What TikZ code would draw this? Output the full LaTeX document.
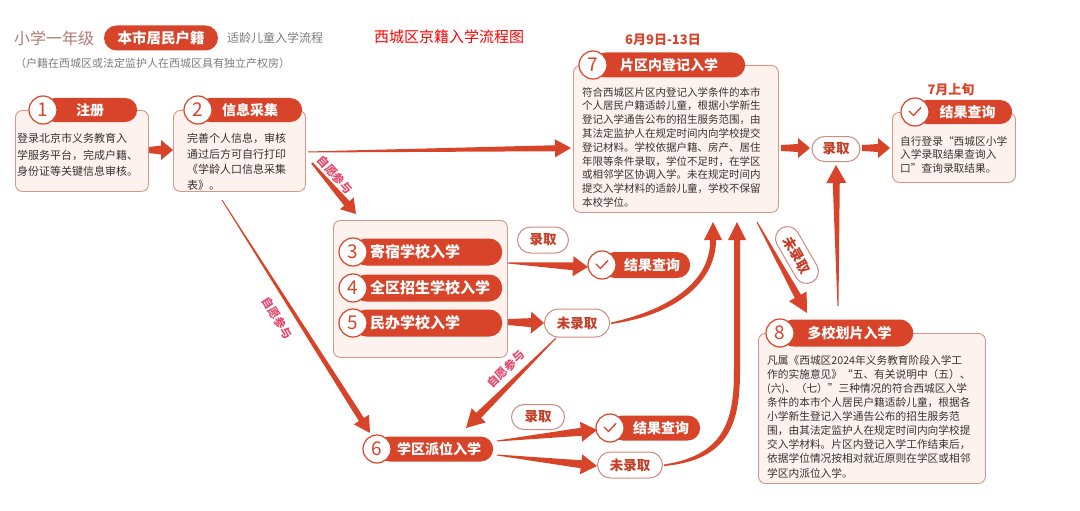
\documentclass[tikz,border=0pt]{standalone}
\usepackage{fontspec}
\setmainfont{Noto Sans CJK SC}
\usetikzlibrary{calc,shapes.misc}
\definecolor{mred}{RGB}{216,68,42}
\definecolor{cardfill}{RGB}{253,242,238}
\definecolor{cardline}{RGB}{214,150,138}
\definecolor{bodytext}{RGB}{55,50,50}
\definecolor{lblpink}{RGB}{228,72,108}
\definecolor{titlegray}{RGB}{176,124,112}
\definecolor{subgray}{RGB}{125,125,125}
\definecolor{ovalline}{RGB}{205,140,128}
\definecolor{ovaltext}{RGB}{196,62,40}
\tikzset{
 card/.style={draw=cardline, fill=cardfill, line width=0.9pt, rounded corners=7pt, inner sep=0pt, anchor=north west},
 redpill/.style={rounded rectangle, fill=mred, text=white, inner sep=0pt, anchor=west, font=\fontsize{14}{14}\selectfont\bfseries},
 boxpill/.style={rectangle, rounded corners=13pt, fill=mred, text=white, anchor=west, minimum width=149pt, minimum height=27pt, text width=115pt, inner xsep=17pt, inner ysep=0pt, align=left, font=\fontsize{15}{15}\selectfont\bfseries},
 numcirc/.style={circle, draw=mred, fill=white, line width=1.2pt, inner sep=0pt, minimum size=28pt, text=mred, font=\fontsize{19}{19}\selectfont},
 ovalpill/.style={rounded rectangle, draw=ovalline, fill=white, line width=1pt, inner sep=0pt, text=ovaltext, font=\fontsize{13.5}{13.5}\selectfont\bfseries},
 body/.style={inner sep=0pt, anchor=north west, align=left, text=bodytext},
 lbl/.style={text=lblpink, font=\fontsize{11.5}{11.5}\selectfont\bfseries, inner sep=1pt},
 chk/.style={draw=mred, line width=1.3pt, line cap=round, line join=round},
 datelbl/.style={text=mred, font=\fontsize{13}{13}\selectfont\bfseries, inner sep=0pt},
}
% start, tip, start half width, shaft-end half width, head half width, head length
\newcommand\taperarrow[6]{%
  \coordinate (tacc) at ($(#2)!#6!(#1)$);
  \fill[mred] ($(#1)!#3!90:(#2)$) -- ($(tacc)!#4!90:(#2)$) -- ($(tacc)!#5!90:(#2)$) -- (#2)
    -- ($(tacc)!#5!-90:(#2)$) -- ($(tacc)!#4!-90:(#2)$) -- ($(#1)!#3!-90:(#2)$) -- cycle;}
\begin{document}
\begin{tikzpicture}[x=1pt,y=-1pt]
\fill[white] (0,0) rectangle (1080,511);
\useasboundingbox (0,0) rectangle (1080,511);

% ---------- header ----------
\node[anchor=west, text=titlegray, inner sep=0pt, font=\fontsize{16}{16}\selectfont] (hd1) at (14,38) {小学一年级};
\node[redpill, anchor=center, minimum width=114pt, minimum height=25pt, font=\fontsize{14.5}{14.5}\selectfont\bfseries] (badge) at (161,38) {本市居民户籍};
\node[anchor=west, text=subgray, inner sep=0pt, font=\fontsize{12}{12}\selectfont] (hd2) at (227,38) {适龄儿童入学流程};
\node[anchor=west, text=red, inner sep=0pt, font=\fontsize{15}{15}\selectfont] (hd3) at (374,37) {西城区京籍入学流程图};
\node[anchor=west, text=subgray, inner sep=0pt, font=\fontsize{11}{11}\selectfont] (hd4) at (15,63) {（户籍在西城区或法定监护人在西城区具有独立产权房）};

% ---------- card 1 ----------
\node[card, minimum width=133pt, minimum height=81pt] (c1) at (15,110) {};
\node[redpill, minimum width=94pt, minimum height=24pt] (p1) at (43,110) {注册};
\node[numcirc] (n1) at (43,110) {1};
\node[body, font=\fontsize{11}{16.5}\selectfont] (t1) at (17,133) {登录北京市义务教育入\\学服务平台，完成户籍、\\身份证等关键信息审核。};

% ---------- card 2 ----------
\node[card, minimum width=132pt, minimum height=81pt] (c2) at (173,110) {};
\node[redpill, minimum width=104pt, minimum height=24pt] (p2) at (198,110) {信息采集};
\node[numcirc] (n2) at (198,110) {2};
\node[body, font=\fontsize{11}{15.5}\selectfont] (t2) at (187,133) {完善个人信息，审核\\通过后方可自行打印\\《学龄人口信息采集\\表》。};

% ---------- card 7 ----------
\node[card, minimum width=205pt, minimum height=147pt] (c7) at (573,65) {};
\node[datelbl] (d7) at (663,40) {6月9日-13日};
\node[redpill, minimum width=152pt, minimum height=25pt] (p7) at (593,65) {片区内登记入学};
\node[numcirc] (n7) at (593,65) {7};
\node[body, font=\fontsize{10.5}{13.8}\selectfont] (t7) at (582,87) {符合西城区片区内登记入学条件的本市\\个人居民户籍适龄儿童，根据小学新生\\登记入学通告公布的招生服务范围，由\\其法定监护人在规定时间内向学校提交\\登记材料。学校依据户籍、房产、居住\\年限等条件录取，学位不足时，在学区\\或相邻学区协调入学。未在规定时间内\\提交入学材料的适龄儿童，学校不保留\\本校学位。};

% ---------- result card (top right) ----------
\node[card, minimum width=123pt, minimum height=70pt] (cR) at (892,112) {};
\node[datelbl] (dR) at (951,90) {7月上旬};
\node[redpill, minimum width=97pt, minimum height=24pt] (pR) at (915,112) {\hspace*{8pt}结果查询};
\node[numcirc] (kR) at (915,112) {};
\draw[chk] ($(kR)+(-6,-1)$) -- ($(kR)+(-1.5,3.5)$) -- ($(kR)+(6,-4.5)$);
\node[body, font=\fontsize{10.7}{13.5}\selectfont] (tR) at (900,136) {自行登录“西城区小学\\入学录取结果查询入\\口”查询录取结果。};

% ---------- top 录取 ----------
\node[ovalpill, minimum width=48pt, minimum height=25pt] (okT) at (836,149) {录取};

% ---------- card 8 ----------
\node[card, minimum width=227pt, minimum height=150pt] (c8) at (758,333) {};
\node[redpill, minimum width=133pt, minimum height=27pt] (p8) at (780,333) {\hspace*{6pt}多校划片入学};
\node[numcirc] (n8) at (780,333) {8};
\node[body, font=\fontsize{10.7}{14.1}\selectfont] (t8) at (767,355) {凡属《西城区2024年义务教育阶段入学工\\作的实施意见》“五、有关说明中（五）、\\(六)、（七）”三种情况的符合西城区入学\\条件的本市个人居民户籍适龄儿童，根据各\\小学新生登记入学通告公布的招生服务范\\围，由其法定监护人在规定时间内向学校提\\交入学材料。片区内登记入学工作结束后，\\依据学位情况按相对就近原则在学区或相邻\\学区内派位入学。};

% ---------- group 3-5 ----------
\node[card, minimum width=174pt, minimum height=137pt] (cg) at (333,220) {};
\node[boxpill] (p3) at (353,252) {寄宿学校入学};
\node[numcirc] (n3) at (353,252) {3};
\node[boxpill] (p4) at (353,288) {全区招生学校入学};
\node[numcirc] (n4) at (353,288) {4};
\node[boxpill] (p5) at (353,323) {民办学校入学};
\node[numcirc] (n5) at (353,323) {5};

% ---------- middle right ----------
\node[ovalpill, minimum width=51pt, minimum height=26pt] (ok1) at (543,240) {录取};
\node[redpill, minimum width=88pt, minimum height=26pt] (r1) at (602,265) {\hspace*{12pt}结果查询};
\node[numcirc] (k1) at (602,265) {};
\draw[chk] ($(k1)+(-6,-1)$) -- ($(k1)+(-1.5,3.5)$) -- ($(k1)+(6,-4.5)$);
\node[ovalpill, minimum width=65pt, minimum height=28pt] (um1) at (577,323) {未录取};

% ---------- node 6 and bottom ----------
\node[redpill, minimum width=116pt, minimum height=25pt] (p6) at (377,449) {\hspace*{8pt}学区派位入学};
\node[numcirc] (n6) at (377,449) {6};
\node[ovalpill, minimum width=53pt, minimum height=25pt] (ok2) at (538,417) {录取};
\node[redpill, minimum width=90pt, minimum height=25pt] (r2) at (610,428) {\hspace*{12pt}结果查询};
\node[numcirc] (k2) at (610,428) {};
\draw[chk] ($(k2)+(-6,-1)$) -- ($(k2)+(-1.5,3.5)$) -- ($(k2)+(6,-4.5)$);
\node[ovalpill, minimum width=65pt, minimum height=26pt] (um2) at (630,465) {未录取};

% ---------- arrow end points ----------
\coordinate (a1s) at (149,150); \coordinate (a1t) at (173,150);
\coordinate (a2s) at (308,152); \coordinate (a2t) at (571,148);
\coordinate (a3s) at (312,163); \coordinate (a3t) at (356,214);
\coordinate (a4s) at (222,200); \coordinate (a4t) at (370,433);
\coordinate (a5s) at (508,263); \coordinate (a5t) at (588,267);
\coordinate (a6s) at (508,322); \coordinate (a6t) at (544,323);
\coordinate (a9s) at (757,222); \coordinate (a9t) at (807,313);
\coordinate (a10s) at (838,306); \coordinate (a10t) at (836,165);
\coordinate (a11s) at (781,148); \coordinate (a11t) at (810,148);
\coordinate (a12s) at (862,148); \coordinate (a12t) at (890,148);
\coordinate (a13s) at (556,338); \coordinate (a13t) at (466,428);
\coordinate (a14s) at (497,441); \coordinate (a14t) at (597,430);
\coordinate (a15s) at (497,455); \coordinate (a15t) at (597,466);
\coordinate (a7s) at (um1.east); \coordinate (a7t) at (713,222);
\coordinate (a8s) at (um2.east); \coordinate (a8t) at (737,222);

% ---------- arrows ----------
\taperarrow{a1s}{a1t}{3pt}{4.5pt}{10pt}{12pt}
\taperarrow{a2s}{a2t}{0.5pt}{3pt}{9pt}{16pt}
\taperarrow{a3s}{a3t}{1pt}{3.5pt}{9pt}{14pt}
\taperarrow{a4s}{a4t}{0.4pt}{3pt}{9pt}{16pt}
\taperarrow{a5s}{a5t}{0.5pt}{4pt}{10pt}{15pt}
\taperarrow{a6s}{a6t}{3pt}{4.5pt}{11pt}{13pt}
\taperarrow{a9s}{a9t}{0.5pt}{3.5pt}{10pt}{19pt}
\taperarrow{a10s}{a10t}{0.5pt}{3.5pt}{10pt}{18pt}
\taperarrow{a11s}{a11t}{3pt}{4pt}{10pt}{12pt}
\taperarrow{a12s}{a12t}{3pt}{4pt}{10pt}{12pt}
\taperarrow{a13s}{a13t}{0.5pt}{3.5pt}{10pt}{18pt}
\taperarrow{a14s}{a14t}{0.5pt}{4pt}{10pt}{16pt}
\taperarrow{a15s}{a15t}{0.5pt}{4pt}{10pt}{16pt}
% curved: 未录取 (3-5) -> 7
\fill[mred] ($(a7s)+(1,1)$) .. controls ($(a7t)+(-36,93)$) and ($(a7t)+(3,59)$) .. ($(a7t)+(3,18)$)
  -- ($(a7t)+(9,18)$) -- (a7t) -- ($(a7t)+(-9,18)$) -- ($(a7t)+(-3,18)$)
  .. controls ($(a7t)+(-2,57)$) and ($(a7t)+(-40,87)$) .. ($(a7s)+(1,-0.5)$) -- cycle;
% curved: 未录取 (6) -> 7
\fill[mred] ($(a8s)+(1,1)$) .. controls ($(a8t)+(-6,238)$) and ($(a8t)+(3,199)$) .. ($(a8t)+(3,148)$)
  -- ($(a8t)+(3,18)$) -- ($(a8t)+(9,18)$) -- (a8t) -- ($(a8t)+(-9,18)$) -- ($(a8t)+(-3,18)$)
  -- ($(a8t)+(-3,148)$) .. controls ($(a8t)+(-3,196)$) and ($(a8t)+(-11,233)$) .. ($(a8s)+(1,-0.5)$) -- cycle;

% ---------- arrow labels ----------
\node[lbl, rotate=-48] (l1) at (335,175) {自愿参与};
\node[lbl, rotate=-58] (l2) at (277,318) {自愿参与};
\node[lbl, rotate=45] (l3) at (506,369) {自愿参与};
\node[ovalpill, rotate=-60, minimum width=62pt, minimum height=24pt] (um3) at (797,255) {未录取};
\end{tikzpicture}
\end{document}
